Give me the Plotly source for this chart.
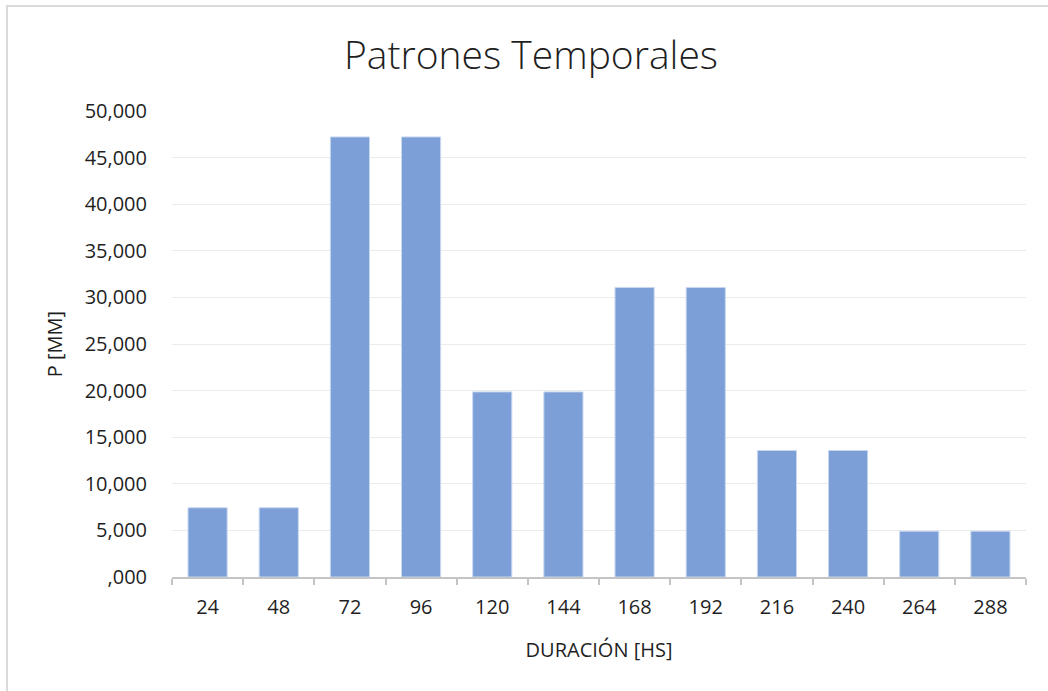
import plotly.graph_objects as go

categories = ["24", "48", "72", "96", "120", "144", "168", "192", "216", "240", "264", "288"]
values = [7.43, 7.43, 47.22, 47.22, 19.86, 19.86, 31.07, 31.07, 13.57, 13.57, 4.92, 4.92]
y_tick_vals = [0, 5, 10, 15, 20, 25, 30, 35, 40, 45, 50]
y_tick_text = [",000", "5,000", "10,000", "15,000", "20,000", "25,000", "30,000",
               "35,000", "40,000", "45,000", "50,000"]

FONT = "Open Sans"
TXT = "#1f1f1f"

W, H = 1048, 691
L, R, T, B = 172, 22, 111, 114
PW, PH = W - L - R, H - T - B

fig = go.Figure()
fig.add_trace(go.Bar(
    x=categories, y=values,
    marker=dict(color="#7b9fd6", line=dict(color="#c9d8f0", width=1)),
    width=0.55,
))

fig.update_layout(
    width=W, height=H,
    margin=dict(l=L, r=R, t=T, b=B),
    paper_bgcolor="white", plot_bgcolor="white",
    showlegend=False,
    title=dict(text="Patrones Temporales", x=(531 - L) / PW, xref="paper", xanchor="center",
               y=1 - 55 / H, yanchor="middle",
               font=dict(family=FONT, size=39, color=TXT, weight=300)),
    font=dict(family=FONT, color=TXT),
)

fig.update_xaxes(
    type="category",
    showline=True, linecolor="#c4c4c4", linewidth=2,
    ticks="outside", tickson="boundaries", ticklen=6, tickcolor="#c4c4c4", tickwidth=2,
    tickfont=dict(family=FONT, size=20, color=TXT), ticklabelstandoff=11,
    title=dict(text="DURACIÓN [HS]", font=dict(family=FONT, size=20, color=TXT), standoff=24),
    showgrid=False,
)
fig.update_yaxes(
    range=[0, 50],
    tickvals=y_tick_vals, ticktext=y_tick_text,
    tickfont=dict(family=FONT, size=20, color=TXT),
    showgrid=True, gridcolor="#ebebeb", gridwidth=1,
    zeroline=False, showline=False,
    ticks="", ticklabelstandoff=24,
    title=dict(text="P [MM]", font=dict(family=FONT, size=20, color=TXT), standoff=16),
)

# outer chart border (extends past right/bottom edges as in the reference)
fig.add_shape(type="rect", xref="paper", yref="paper",
              x0=(7 - L) / PW, x1=(1060 - L) / PW,
              y0=-(700 - (H - B)) / PH, y1=1 + (T - 6) / PH,
              line=dict(color="#d9d9d9", width=2), layer="below")

fig.write_html("out.html", config={"displayModeBar": False},
               post_script="document.body.style.margin='0px';")
